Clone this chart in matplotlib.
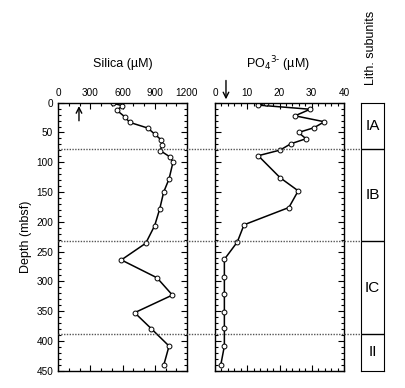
import matplotlib
matplotlib.use("Agg")
import matplotlib.pyplot as plt
import matplotlib.transforms as mtransforms
from matplotlib.lines import Line2D
from matplotlib.ticker import MultipleLocator

plt.rcParams['font.family'] = ['Liberation Sans', 'DejaVu Sans']

# silica profile
si_depth = [1, 5, 13, 23.5, 33, 42.5, 52.6, 62.7, 71.6, 80.6, 90.7, 99.6, 128, 150,
            178.5, 206.5, 236, 264, 294, 323, 352.6, 379.5, 408.6, 441]
si_val = [512, 598, 549, 620, 667, 834, 899, 961, 967, 952, 1039, 1070, 1033, 983,
          946, 899, 816, 589, 921, 1064, 713, 868, 1033, 983]

# phosphate profile
po_depth = [0, 4, 11, 22, 32, 42, 50, 60.5, 69, 79.5, 89, 126, 148, 176, 205, 234,
            263, 292, 321, 351, 379, 408.6, 440]
po_val = [15.7, 13.4, 29.5, 24.8, 33.9, 30.7, 25.9, 28.2, 23.5, 20.2, 13.4, 20.2,
          25.8, 22.9, 9.0, 6.9, 2.9, 2.9, 2.9, 2.9, 2.9, 2.9, 1.8]

# lithologic subunits
bounds = [78, 233, 388]
units = ['IA', 'IB', 'IC', 'II']
unit_mid = [39, 155.5, 310.5, 419]

fig = plt.figure(figsize=(4.06, 3.88), dpi=100)
ax1 = fig.add_axes([0.1429, 0.0446, 0.3177, 0.6907])
ax2 = fig.add_axes([0.5296, 0.0446, 0.3177, 0.6907])
ax3 = fig.add_axes([0.889, 0.0446, 0.0567, 0.6907])

for ax in (ax1, ax2):
    ax.set_ylim(450, 0)
    ax.xaxis.tick_top()
    ax.tick_params(which='both', direction='in', top=True, bottom=True,
                   left=True, right=True, labelsize=7.2, width=0.8)
    ax.tick_params(which='major', length=4)
    ax.tick_params(which='minor', length=2)
    ax.yaxis.set_major_locator(MultipleLocator(50))
    ax.yaxis.set_minor_locator(MultipleLocator(10))
    for s in ax.spines.values():
        s.set_linewidth(1.0)

ax1.plot(si_val, si_depth, '-o', color='black', lw=1.1, ms=3.5, mfc='white', mew=0.7)
ax1.set_xlim(0, 1200)
ax1.xaxis.set_major_locator(MultipleLocator(300))
ax1.xaxis.set_minor_locator(MultipleLocator(100))
ax1.set_ylabel('Depth (mbsf)', fontsize=9, labelpad=3)
ax1.annotate('', xy=(195, 1), xytext=(195, 35),
             arrowprops=dict(arrowstyle='->', color='black', lw=1.0))

ax2.plot(po_val, po_depth, '-o', color='black', lw=1.1, ms=3.5, mfc='white', mew=0.7)
ax2.set_xlim(0, 40)
ax2.xaxis.set_major_locator(MultipleLocator(10))
ax2.xaxis.set_minor_locator(MultipleLocator(2))
ax2.set_yticklabels([])
ax2.annotate('', xy=(3.4, -1), xytext=(3.4, -42), annotation_clip=False,
             arrowprops=dict(arrowstyle='->', color='black', lw=1.0))

ax3.set_ylim(450, 0)
ax3.set_xlim(0, 1)
ax3.set_xticks([])
ax3.set_yticks([])
for b in bounds:
    ax3.axhline(b, color='black', lw=1.0)
for u, m in zip(units, unit_mid):
    ax3.text(0.5, m, u, ha='center', va='center', fontsize=11)

# dotted boundaries across the panels
trans = mtransforms.blended_transform_factory(fig.transFigure, ax1.transData)
for b in bounds:
    fig.add_artist(Line2D([0.1429, 0.889], [b, b], transform=trans,
                          color='#555555', lw=1.0, ls=(0, (1, 1))))

fig.text(123 / 406, 1 - 64 / 388, 'Silica (\u00b5M)', ha='center', va='center', fontsize=9)
fig.text(278 / 406, 1 - 64 / 388, 'PO$_4$$^{3\\text{-}}$ (\u00b5M)', ha='center',
         va='center', fontsize=9)
fig.text(371 / 406, 1 - 48 / 388, 'Lith. subunits', ha='center', va='center',
         rotation=90, fontsize=9)

fig.savefig('out.png', dpi=100)
